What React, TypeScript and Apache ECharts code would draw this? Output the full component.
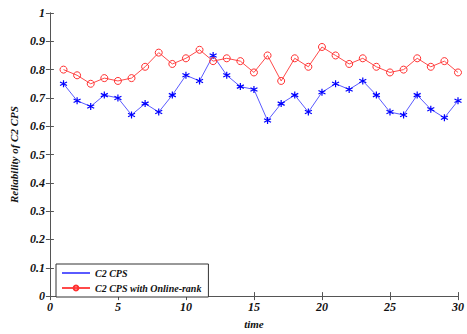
import React, { useEffect, useRef } from "react";
import * as echarts from "echarts";

const timeSteps = Array.from({ length: 30 }, (_, i) => i + 1);
const c2cps = [0.75, 0.69, 0.67, 0.71, 0.70, 0.64, 0.68, 0.65, 0.71, 0.78, 0.76, 0.85, 0.78, 0.74, 0.73, 0.62, 0.68, 0.71, 0.65, 0.72, 0.75, 0.73, 0.76, 0.71, 0.65, 0.64, 0.71, 0.66, 0.63, 0.69];
const c2cpsOnline = [0.80, 0.78, 0.75, 0.77, 0.76, 0.77, 0.81, 0.86, 0.82, 0.84, 0.87, 0.83, 0.84, 0.83, 0.79, 0.85, 0.76, 0.84, 0.81, 0.88, 0.85, 0.82, 0.84, 0.81, 0.79, 0.80, 0.84, 0.81, 0.83, 0.79];

const FONT = "'Liberation Serif', 'DejaVu Serif', serif";
const AX = "#555";

export default function App() {
  const ref = useRef<HTMLDivElement>(null);
  useEffect(() => {
    document.body.style.margin = "0";
    const chart = echarts.init(ref.current!, null, { renderer: "svg" });
    const lbl = { fontFamily: FONT, fontWeight: "bold", fontStyle: "italic", fontSize: 12, color: "#111" };
    const star = "path://M0,-5L0,5M-4.3,-2.5L4.3,2.5M-4.3,2.5L4.3,-2.5";
    chart.setOption({
      animation: false,
      backgroundColor: "#fff",
      grid: { left: 43, top: 13, right: 4, bottom: 25, containLabel: false },
      xAxis: [
        {
          type: "value", min: 0, max: 30, interval: 5,
          axisLine: { lineStyle: { color: AX } },
          axisTick: { inside: true, length: 4, lineStyle: { color: AX } },
          splitLine: { show: false },
          axisLabel: { ...lbl, margin: 5 },
          name: "time", nameLocation: "middle", nameGap: 21,
          nameTextStyle: { ...lbl, fontSize: 11 },
        },
        {
          type: "value", min: 0, max: 30, interval: 5, position: "top",
          axisLine: { lineStyle: { color: AX } },
          axisTick: { inside: true, length: 4, lineStyle: { color: AX } },
          splitLine: { show: false }, axisLabel: { show: false },
        },
      ],
      yAxis: [
        {
          type: "value", min: 0, max: 1, interval: 0.1,
          axisLine: { show: true, lineStyle: { color: AX } },
          axisTick: { show: true, inside: true, length: 4, lineStyle: { color: AX } },
          splitLine: { show: false },
          axisLabel: { ...lbl, margin: 5, formatter: (v: number) => (v === 0 || v === 1 ? String(v) : v.toFixed(1)) },
          name: "Reliability of C2 CPS", nameLocation: "middle", nameGap: 28,
          nameTextStyle: { ...lbl, fontSize: 11 },
        },
        {
          type: "value", min: 0, max: 1, interval: 0.1, position: "right",
          axisLine: { show: true, lineStyle: { color: AX } },
          axisTick: { show: true, inside: true, length: 4, lineStyle: { color: AX } },
          splitLine: { show: false }, axisLabel: { show: false },
        },
      ],
      legend: {
        orient: "vertical", left: 56, top: 264,
        backgroundColor: "#fff",
        borderColor: "#333", borderWidth: 1, borderRadius: 0,
        padding: [4, 7, 4, 5], itemGap: 5, itemWidth: 28, itemHeight: 6,
        textStyle: { ...lbl, fontSize: 10 },
        data: [
          { name: "C2 CPS", itemStyle: { opacity: 0 } },
          { name: "C2 CPS with Online-rank" },
        ],
      },
      series: [
        {
          name: "C2 CPS", type: "line",
          data: timeSteps.map((t, i) => [t, c2cps[i]]),
          symbol: star, symbolSize: 7,
          lineStyle: { color: "#5a5aff", width: 1 },
          itemStyle: { color: "#0000ff", borderColor: "#0000ff", borderWidth: 1.2 },
        },
        {
          name: "C2 CPS with Online-rank", type: "line",
          data: timeSteps.map((t, i) => [t, c2cpsOnline[i]]),
          symbol: "circle", symbolSize: 7,
          lineStyle: { color: "#ff4a4a", width: 1 },
          itemStyle: { color: "rgba(255,255,255,0)", borderColor: "#ff3030", borderWidth: 1 },
        },
      ],
    });
    return () => chart.dispose();
  }, []);
  return <div ref={ref} style={{ width: 467, height: 334 }} />;
}
